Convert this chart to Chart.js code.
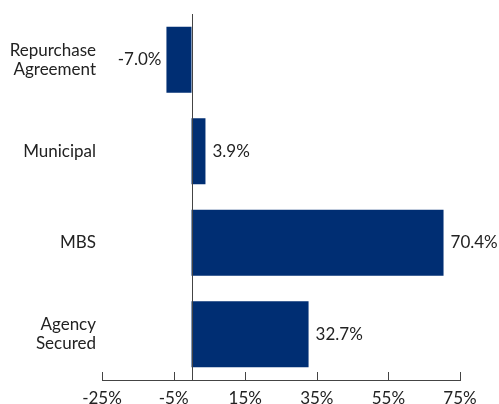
<!DOCTYPE html>
<html>
<head>
<meta charset="utf-8">
<script src="https://cdn.jsdelivr.net/npm/chart.js@4"></script>
<style>
  html, body { margin: 0; padding: 0; background: #fff; }
  #wrap { width: 499px; height: 404px; }
</style>
</head>
<body>
<div id="wrap"><canvas id="chart"></canvas></div>
<script>
// data
const categories = [['Repurchase', 'Agreement'], 'Municipal', 'MBS', ['Agency', 'Secured']];
const values = [-7.0, 3.9, 70.4, 32.7];
const tickValues = [-25, -5, 15, 35, 55, 75];

const barColor = '#002e73';
const textColor = '#222222';
const fontFamily = 'Lato, "Open Sans", sans-serif';

// zero line, upward tick marks and the value labels
const extras = {
    id: 'extras',
    afterDatasetsDraw(chart) {
        const ctx = chart.ctx;
        const x = chart.scales.x;
        const area = chart.chartArea;
        ctx.save();
        ctx.strokeStyle = '#444';
        ctx.lineWidth = 1;
        // zero line
        const x0 = Math.round(x.getPixelForValue(0)) + 0.5;
        ctx.beginPath();
        ctx.moveTo(x0, area.top);
        ctx.lineTo(x0, area.bottom);
        ctx.stroke();
        // tick marks pointing up
        tickValues.forEach(v => {
            const px = Math.round(x.getPixelForValue(v)) + 0.5;
            ctx.beginPath();
            ctx.moveTo(px, area.bottom - 8);
            ctx.lineTo(px, area.bottom);
            ctx.stroke();
        });
        // value labels
        ctx.fillStyle = textColor;
        ctx.font = '17px ' + fontFamily;
        ctx.textBaseline = 'middle';
        const meta = chart.getDatasetMeta(0);
        meta.data.forEach((bar, i) => {
            const v = values[i];
            const label = v.toFixed(1) + '%';
            if (v < 0) {
                ctx.textAlign = 'right';
                ctx.fillText(label, bar.x - 5, bar.y);
            } else {
                ctx.textAlign = 'left';
                ctx.fillText(label, bar.x + 7, bar.y);
            }
        });
        ctx.restore();
    }
};

new Chart(document.getElementById('chart'), {
    type: 'bar',
    data: {
        labels: categories,
        datasets: [{
            data: values,
            backgroundColor: barColor,
            borderWidth: 0,
            categoryPercentage: 1,
            barPercentage: 0.72
        }]
    },
    options: {
        indexAxis: 'y',
        responsive: true,
        maintainAspectRatio: false,
        animation: false,
        layout: { padding: { top: 14, right: 39, left: 0, bottom: 0 } },
        plugins: {
            legend: { display: false },
            tooltip: { enabled: false }
        },
        scales: {
            x: {
                min: -25,
                max: 75,
                afterBuildTicks: s => { s.ticks = tickValues.map(v => ({ value: v })); },
                afterFit: s => { s.height = 24; s.paddingLeft = 0; s.paddingRight = 0; },
                grid: { display: false, drawTicks: false },
                border: { display: true, color: '#444', width: 1 },
                ticks: {
                    padding: 8,
                    color: textColor,
                    font: { family: fontFamily, size: 17 },
                    maxRotation: 0,
                    callback: v => v + '%'
                }
            },
            y: {
                afterFit: s => { s.width = 102; s.paddingTop = 0; s.paddingBottom = 0; },
                grid: { display: false, drawTicks: false },
                border: { display: false },
                ticks: {
                    padding: 6,
                    color: textColor,
                    font: { family: fontFamily, size: 17, lineHeight: 1.1 }
                }
            }
        }
    },
    plugins: [extras]
});
</script>
</body>
</html>
